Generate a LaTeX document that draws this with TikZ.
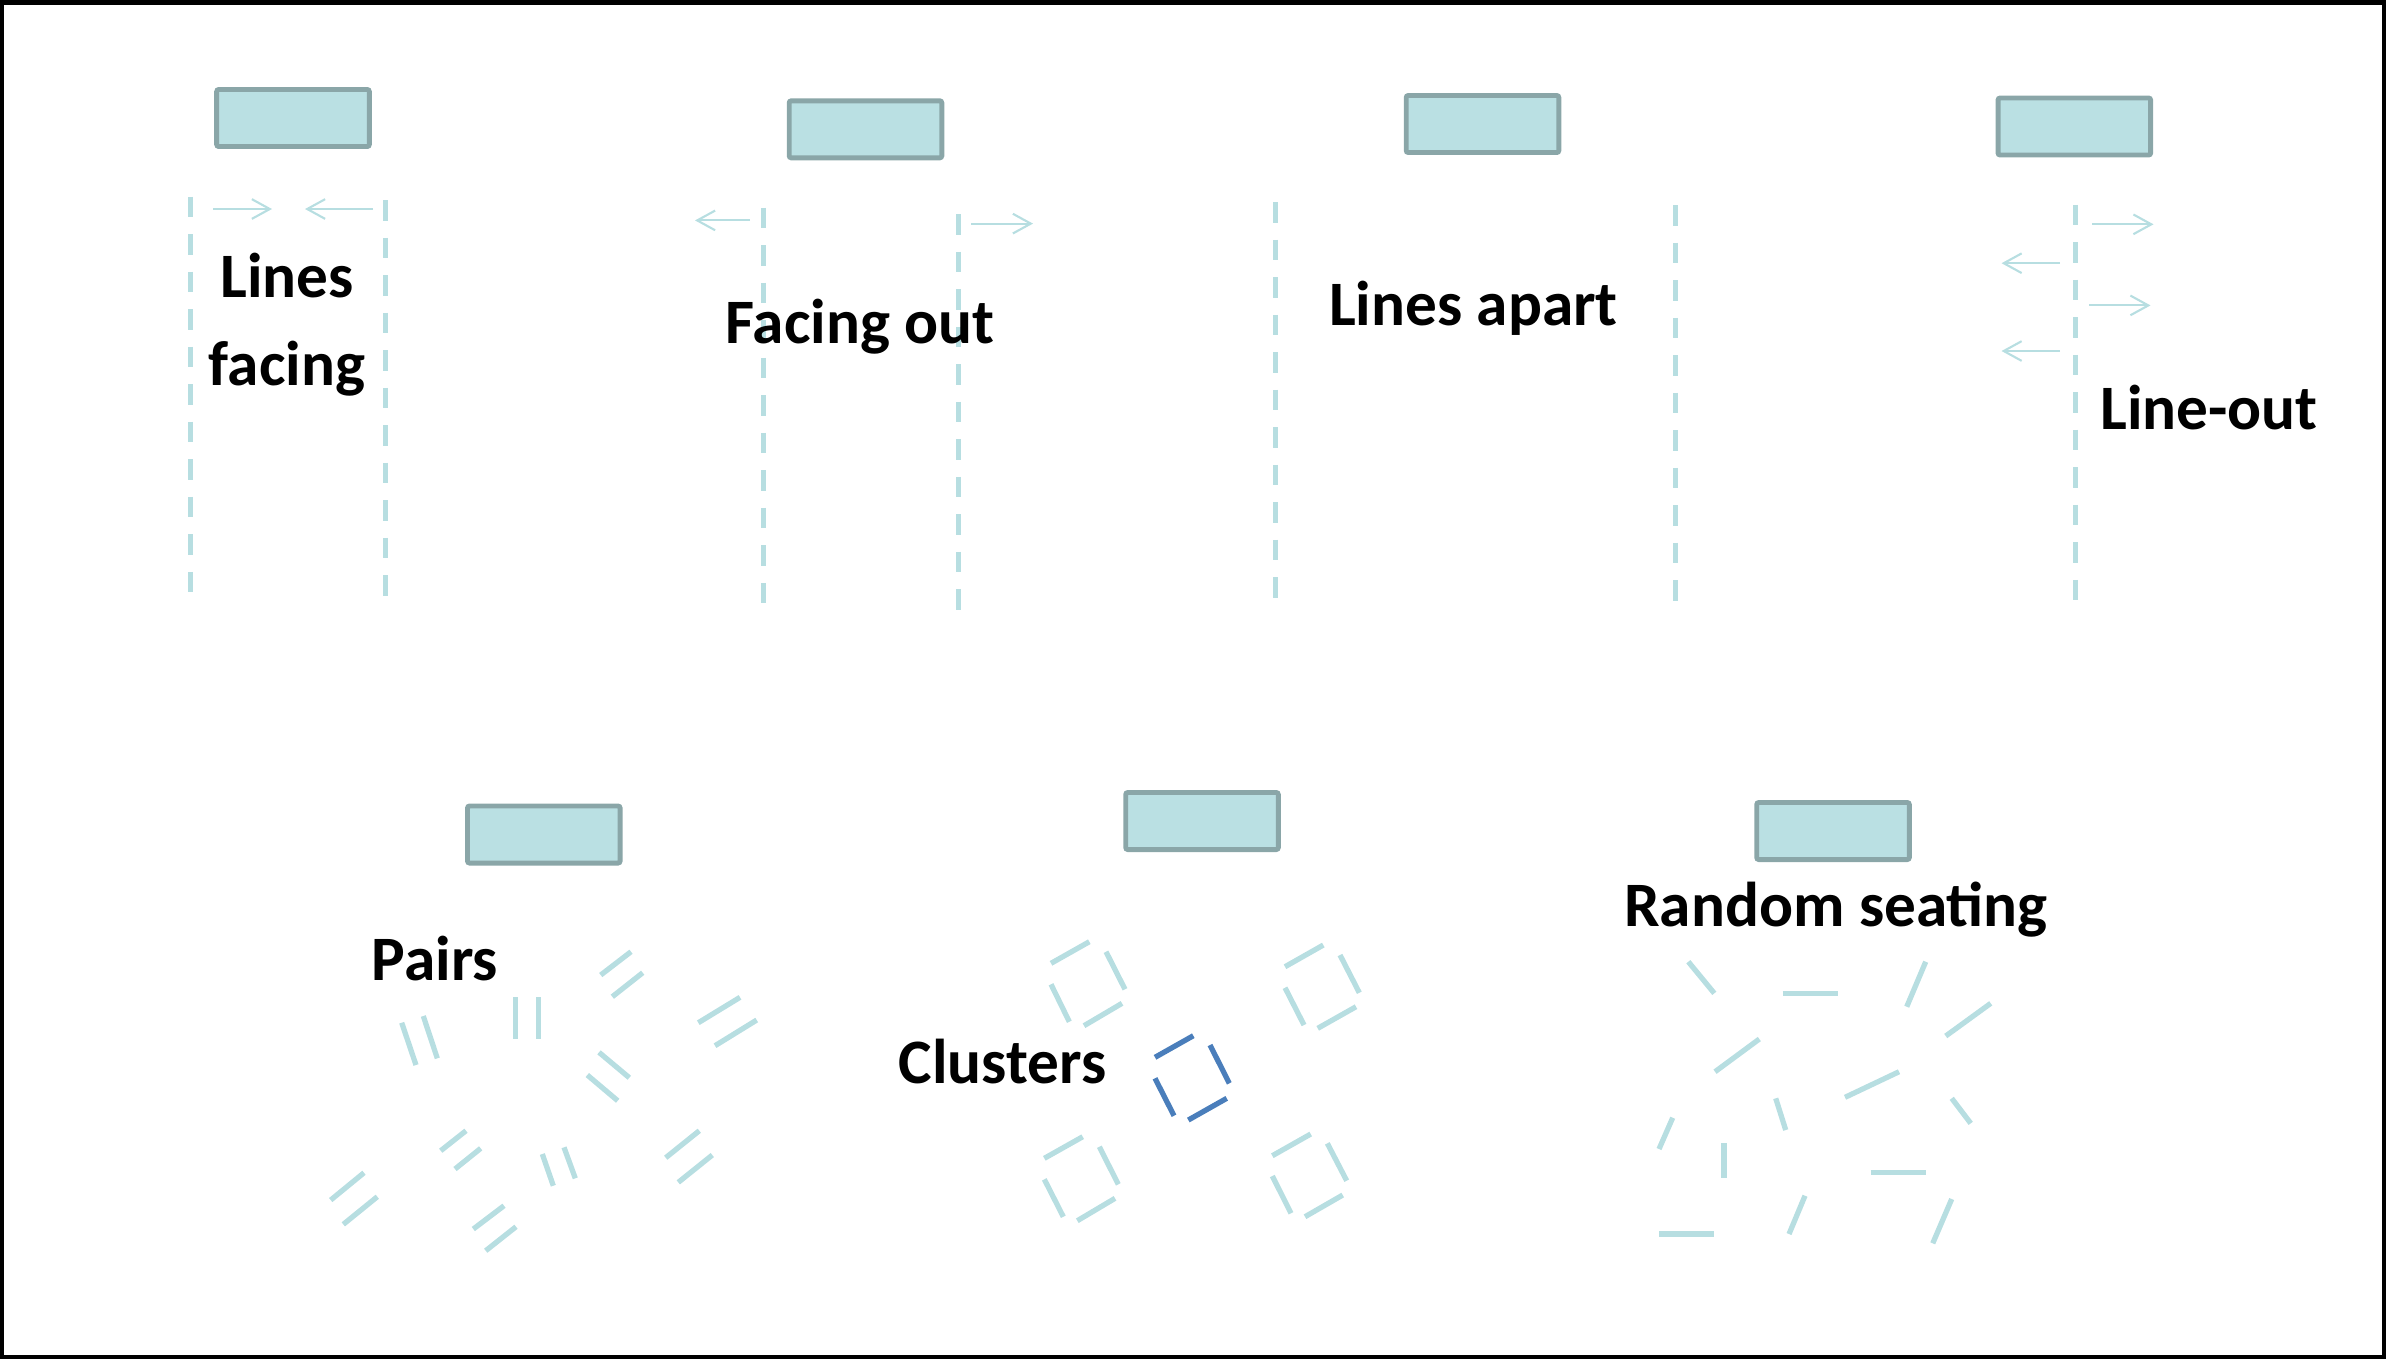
\documentclass[tikz,border=0pt]{standalone}
\usepackage{fontspec}
\setmainfont{Carlito}
\usetikzlibrary{arrows.meta}
\definecolor{rectfill}{RGB}{186,224,227}
\definecolor{rectdraw}{RGB}{138,166,168}
\definecolor{seat}{RGB}{183,222,225}
\definecolor{seatdark}{RGB}{74,126,187}
\tikzset{
  front/.style={draw=rectdraw, fill=rectfill, line width=1.4pt, rounded corners=0.6pt,
    minimum width=1.525cm, minimum height=0.57cm, inner sep=0pt},
  label/.style={font=\fontsize{18}{25}\selectfont\bfseries, inner sep=0pt, anchor=base, align=center},
  rowline/.style={draw=seat, line width=1.55pt, dash pattern=on 5.83pt off 4.84pt},
  facing/.style={draw=seat, line width=0.6pt, -{Straight Barb[length=5.1pt, width=5.6pt]}},
  seatseg/.style={draw=seat, line width=1.5pt},
  seatsel/.style={draw=seatdark, line width=1.5pt},
}
\begin{document}
\begin{tikzpicture}[x=0.01cm, y=-0.01cm]
\useasboundingbox (0,0) rectangle (2386,1359);
\draw[line width=1.15pt] (2,2.5) rectangle (2384,1357);

% ---- Lines facing
\node[front] (r1) at (293,118) {};
\draw[rowline] (190.7,196.5) -- (190.7,592);
\draw[rowline] (385.7,200) -- (385.7,595.5);
\draw[facing] (213,209) -- (272,209);
\draw[facing] (373,209) -- (305,209);
\node[label] (t1) at (287,385.7) {Lines\\facing};

% ---- Facing out
\node[front] (r2) at (865.5,129.3) {};
\draw[rowline] (763.3,207.5) -- (763.3,603);
\draw[rowline] (958.3,214) -- (958.3,609.5);
\draw[facing] (750,220.4) -- (695,220.4);
\draw[facing] (971,223.6) -- (1033,223.6);
\node[label] (t2) at (860,343) {Facing out};

% ---- Lines apart
\node[front] (r3) at (1482.5,124) {};
\draw[rowline] (1275.7,202) -- (1275.7,597.5);
\draw[rowline] (1675.7,205) -- (1675.7,600.5);
\node[label] (t3) at (1473.5,325) {Lines apart};

% ---- Line-out
\node[front] (r4) at (2074.3,126.5) {};
\draw[rowline] (2075.7,204.5) -- (2075.7,600);
\draw[facing] (2092,224.3) -- (2153.5,224.3);
\draw[facing] (2060,263.2) -- (2001.5,263.2);
\draw[facing] (2089,305.4) -- (2150.5,305.4);
\draw[facing] (2060,351) -- (2001.5,351);
\node[label] (t4) at (2209,429) {Line-out};

% ---- Pairs
\node[front] (r5) at (543.8,834.5) {};
\node[label] (t5) at (435,980) {Pairs};
\draw[seatseg] (600.7,975) -- (631,951.7);
\draw[seatseg] (612.3,996.7) -- (642.7,972.7);
\draw[seatseg] (401.7,1022.7) -- (416,1065);
\draw[seatseg] (423.3,1016) -- (437.3,1058.3);
\draw[seatseg] (515.7,997.3) -- (515.7,1039.3);
\draw[seatseg] (538.7,997.3) -- (538.7,1039.3);
\draw[seatseg] (698.3,1022.7) -- (740,997.3);
\draw[seatseg] (715,1045.7) -- (756.7,1020);
\draw[seatseg] (599,1052.3) -- (629.3,1077.7);
\draw[seatseg] (587.3,1075) -- (617.7,1100.7);
\draw[seatseg] (440.7,1150.7) -- (466,1130.7);
\draw[seatseg] (455,1169) -- (480.7,1148.3);
\draw[seatseg] (542.3,1154) -- (553.3,1185.7);
\draw[seatseg] (564,1147.3) -- (575.3,1178.3);
\draw[seatseg] (665.7,1157.7) -- (699.3,1130.7);
\draw[seatseg] (678.3,1182.3) -- (712.3,1155);
\draw[seatseg] (330.7,1200) -- (364,1172.7);
\draw[seatseg] (343.3,1224.3) -- (377.3,1196.7);
\draw[seatseg] (473.3,1229) -- (504,1205.7);
\draw[seatseg] (485.7,1250.7) -- (516,1226.7);

% ---- Clusters
\node[front] (r6) at (1202,821) {};
\node[label] (t6) at (1002.5,1083.5) {Clusters};
% top-left
\draw[seatseg] (1051,963.3) -- (1089.3,941.7);
\draw[seatseg] (1106,951.7) -- (1125,989.3);
\draw[seatseg] (1051,984.3) -- (1069.3,1021.7);
\draw[seatseg] (1084,1025.7) -- (1122,1003.3);
% top-right
\draw[seatseg] (1285,966.7) -- (1323.3,945);
\draw[seatseg] (1340,955) -- (1359.3,992.7);
\draw[seatseg] (1285,987.7) -- (1304,1025);
\draw[seatseg] (1317.7,1028.3) -- (1356,1006.7);
% centre (highlighted)
\draw[seatsel] (1155,1057.3) -- (1193.3,1035.7);
\draw[seatsel] (1210,1045) -- (1229.3,1083.3);
\draw[seatsel] (1155,1078.3) -- (1174,1115.7);
\draw[seatsel] (1188.3,1120) -- (1226.7,1098.3);
% bottom-left
\draw[seatseg] (1044.3,1158.3) -- (1082.7,1136.7);
\draw[seatseg] (1099.3,1146.7) -- (1118.3,1184.3);
\draw[seatseg] (1044.3,1179.3) -- (1063.3,1216.7);
\draw[seatseg] (1077.3,1220.7) -- (1115,1198.3);
% bottom-right
\draw[seatseg] (1272.3,1155.7) -- (1310.7,1134);
\draw[seatseg] (1327.3,1143.3) -- (1346.7,1180.7);
\draw[seatseg] (1272.3,1176) -- (1291,1213.3);
\draw[seatseg] (1305,1216.7) -- (1342.7,1195);

% ---- Random seating
\node[front] (r7) at (1833,831) {};
\node[label] (t7) at (1836,926.7) {Random seating};
\draw[seatseg] (1688.3,961.7) -- (1714.3,993.3);
\draw[seatseg] (1782.7,993.3) -- (1837.7,993.3);
\draw[seatseg] (1925.7,961.7) -- (1906.7,1006.7);
\draw[seatseg] (1990.7,1003.3) -- (1945.7,1036);
\draw[seatseg] (1759.3,1039) -- (1715,1071.7);
\draw[seatseg] (1899,1071.7) -- (1845,1097.3);
\draw[seatseg] (1775.7,1098.3) -- (1785.7,1130);
\draw[seatseg] (1951.7,1098.3) -- (1970.7,1123.3);
\draw[seatseg] (1672.7,1117.7) -- (1659,1149);
\draw[seatseg] (1724,1143.3) -- (1724,1178.3);
\draw[seatseg] (1870.7,1172.3) -- (1925.7,1172.3);
\draw[seatseg] (1805,1195.7) -- (1789,1234);
\draw[seatseg] (1659.3,1234) -- (1714.3,1234);
\draw[seatseg] (1951.7,1199) -- (1932.7,1243.3);
\end{tikzpicture}
\end{document}
